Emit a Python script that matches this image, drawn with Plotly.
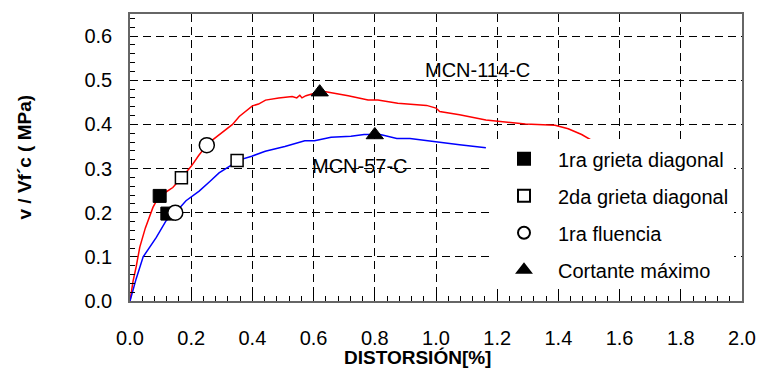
import plotly.graph_objects as go

# Curves
red_name = "MCN-114-C"
red_x = [0, 0.01, 0.02, 0.032, 0.05, 0.075, 0.085, 0.097, 0.12, 0.14, 0.168, 0.2, 0.225, 0.251, 0.27, 0.292,
         0.31, 0.335, 0.357, 0.38, 0.4, 0.42, 0.443, 0.486, 0.53, 0.545, 0.555, 0.562, 0.575, 0.6, 0.622,
         0.64, 0.713, 0.778, 0.81, 0.875, 0.969, 1.0, 1.012, 1.077, 1.163, 1.292, 1.389, 1.432, 1.476, 1.519]
red_y = [0, 0.045, 0.077, 0.122, 0.165, 0.212, 0.225, 0.238, 0.248, 0.257, 0.279, 0.305, 0.33, 0.353, 0.365,
         0.377, 0.385, 0.4, 0.418, 0.43, 0.442, 0.446, 0.455, 0.46, 0.463, 0.46, 0.466, 0.46, 0.465, 0.47,
         0.475, 0.474, 0.465, 0.455, 0.455, 0.448, 0.443, 0.437, 0.429, 0.422, 0.41, 0.401, 0.398, 0.39,
         0.377, 0.36]

blue_name = "MCN-57-C"
blue_x = [0, 0.02, 0.043, 0.065, 0.086, 0.118, 0.148, 0.183, 0.226, 0.26, 0.291, 0.334, 0.35, 0.398, 0.442,
          0.506, 0.571, 0.603, 0.657, 0.722, 0.765, 0.818, 0.872, 0.915, 1.0, 1.077, 1.163]
blue_y = [0, 0.05, 0.1, 0.123, 0.144, 0.182, 0.2, 0.227, 0.249, 0.27, 0.29, 0.309, 0.318, 0.328, 0.339,
          0.35, 0.363, 0.363, 0.371, 0.373, 0.377, 0.377, 0.368, 0.368, 0.36, 0.354, 0.347]

# Event markers (first: MCN-114-C, second: MCN-57-C)
crack1_x = [0.097, 0.122]
crack1_y = [0.238, 0.198]
crack2_x = [0.168, 0.35]
crack2_y = [0.279, 0.318]
yield_x = [0.251, 0.148]
yield_y = [0.353, 0.2]
vmax_x = [0.62, 0.8]
vmax_y = [0.473, 0.376]

x_ticks = [0.0, 0.2, 0.4, 0.6, 0.8, 1.0, 1.2, 1.4, 1.6, 1.8, 2.0]
y_ticks = [0.0, 0.1, 0.2, 0.3, 0.4, 0.5, 0.6]

FONT = "Liberation Sans, Arial, sans-serif"
FS = 20

fig = go.Figure()
fig.add_trace(go.Scatter(x=red_x, y=red_y, mode="lines", line=dict(color="#ff0000", width=1.5),
                         showlegend=False, name=red_name))
fig.add_trace(go.Scatter(x=blue_x, y=blue_y, mode="lines", line=dict(color="#0000ff", width=1.5),
                         showlegend=False, name=blue_name))

fig.add_trace(go.Scatter(x=crack1_x, y=crack1_y, mode="markers", name="1ra grieta diagonal",
                         legendgroup="a",
                         marker=dict(symbol="square", size=13, color="black", line=dict(color="black", width=1))))
fig.add_trace(go.Scatter(x=crack2_x, y=crack2_y, mode="markers", name="2da grieta diagonal",
                         legendgroup="b",
                         marker=dict(symbol="square", size=12, color="white", line=dict(color="black", width=1.5))))
fig.add_trace(go.Scatter(x=yield_x, y=yield_y, mode="markers", name="1ra fluencia",
                         legendgroup="c",
                         marker=dict(symbol="circle", size=15, color="white", line=dict(color="black", width=1.5))))
fig.add_trace(go.Scatter(x=vmax_x, y=vmax_y, mode="markers", name="Cortante máximo",
                         legendgroup="d",
                         marker=dict(symbol="triangle-up", size=15, color="black", line=dict(color="black", width=1))))

fig.add_annotation(x=1.136, y=0.524, text=red_name, showarrow=False,
                   font=dict(family=FONT, size=FS, color="black"))
fig.add_annotation(x=0.753, y=0.306, text=blue_name, showarrow=False,
                   font=dict(family=FONT, size=FS, color="black"))

# Page body has an 8px margin and clips at its width, so the figure is sized to fit inside it.
W, H = 749, 363
ML, MR, MT, MB = 122, 15, 5.5, 70
PW, PH = W - ML - MR, H - MT - MB

fig.add_annotation(xref="paper", yref="paper", x=0, y=0.5, xshift=-106, text="<b>v / Vf´c ( MPa)</b>",
                   textangle=-90, showarrow=False, xanchor="center", yanchor="middle",
                   font=dict(family=FONT, size=19, color="black"))
fig.add_annotation(xref="paper", yref="paper", x=(417 - 130) / PW, y=0, yshift=-56, text="<b>DISTORSIÓN[%]</b>",
                   showarrow=False, xanchor="center", yanchor="middle",
                   font=dict(family=FONT, size=19, color="black"))

fig.update_xaxes(range=[0, 2.0], tickvals=x_ticks, ticktext=[f"{v:.1f}" for v in x_ticks],
                 showgrid=True, gridcolor="black", gridwidth=1, griddash="8px,5px",
                 showline=True, linecolor="#666666", linewidth=1.5, mirror=True,
                 ticks="inside", ticklen=7, tickcolor="black", ticklabelstandoff=18,
                 ticklabeloverflow="allow",
                 minor=dict(dtick=0.04, ticks="inside", ticklen=5, tickcolor="black", showgrid=False),
                 zeroline=False, tickfont=dict(family=FONT, size=FS, color="black"))
fig.update_yaxes(range=[0, 0.65], tickvals=y_ticks, ticktext=[f"{v:.1f}" for v in y_ticks],
                 showgrid=True, gridcolor="black", gridwidth=1, griddash="8px,5px",
                 showline=True, linecolor="#666666", linewidth=1.5, mirror=True,
                 ticks="inside", ticklen=7, tickcolor="black", ticklabelstandoff=12,
                 minor=dict(dtick=0.02, ticks="inside", ticklen=5, tickcolor="black", showgrid=False),
                 zeroline=False, tickfont=dict(family=FONT, size=FS, color="black"))

fig.update_layout(
    width=W, height=H,
    margin=dict(l=ML, r=MR, t=MT, b=MB, autoexpand=False),
    plot_bgcolor="white", paper_bgcolor="white",
    font=dict(family=FONT, size=FS, color="black"),
    legend=dict(x=(490 - 130) / PW, y=(301 - 139) / PH, xanchor="left", yanchor="top",
                bgcolor="white", borderwidth=0, itemsizing="constant", tracegroupgap=8,
                itemwidth=58, font=dict(family=FONT, size=FS, color="black")),
)

fig.write_html("out.html")
